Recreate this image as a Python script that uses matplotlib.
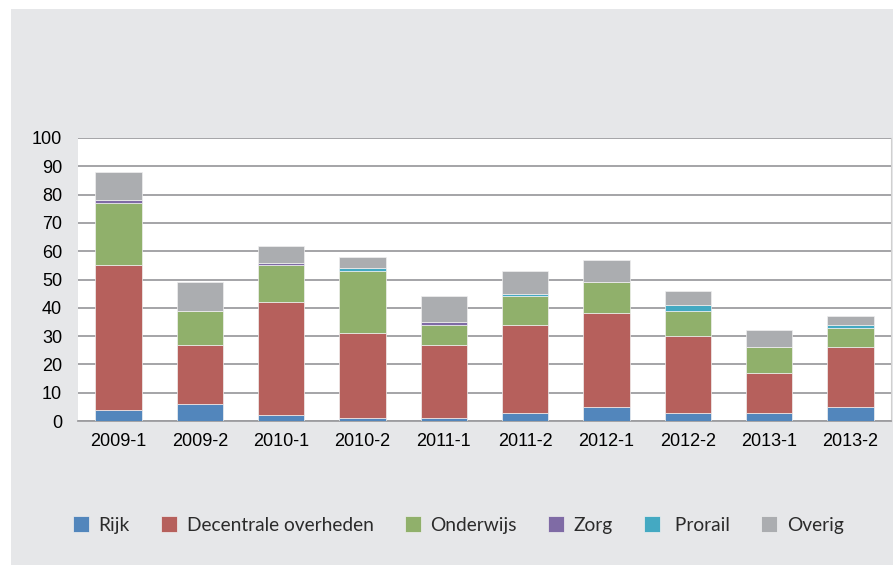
import numpy as np
import matplotlib.pyplot as plt
from matplotlib.patches import Rectangle

# Data
periods = ['2009-1', '2009-2', '2010-1', '2010-2', '2011-1',
           '2011-2', '2012-1', '2012-2', '2013-1', '2013-2']
rijk = [4, 6, 2, 1, 1, 3, 5, 3, 3, 5]
decentraal = [51, 21, 40, 30, 26, 31, 33, 27, 14, 21]
onderwijs = [22, 12, 13, 22, 7, 10, 11, 9, 9, 7]
zorg = [1, 0, 1, 0, 1, 0, 0, 0, 0, 0]
prorail = [0, 0, 0, 1, 0, 1, 0, 2, 0, 1]
overig = [10, 10, 6, 4, 9, 8, 8, 5, 6, 3]

series = [
    ('Rijk', rijk, '#5286bc'),
    ('Decentrale overheden', decentraal, '#b6605c'),
    ('Onderwijs', onderwijs, '#90b06b'),
    ('Zorg', zorg, '#7f6ba5'),
    (' Prorail', prorail, '#44a9c2'),
    ('Overig', overig, '#abadb0'),
]

fig = plt.figure(figsize=(8.93, 5.65), dpi=100)
fig.patch.set_facecolor('white')
# grey panel behind the chart
fig.patches.append(Rectangle((11 / 893, 0), 1 - 11 / 893, 556 / 565,
                             transform=fig.transFigure, facecolor='#e6e7e9',
                             edgecolor='none', zorder=-10))

ax = fig.add_axes([78 / 893, 144 / 565, 813 / 893, 283 / 565])
ax.set_facecolor('white')

x = np.arange(len(periods))
bottom = np.zeros(len(periods))
for name, vals, col in series:
    vals = np.array(vals, dtype=float)
    ax.bar(x, vals, 0.57, bottom=bottom, color=col, label=name,
           edgecolor='#f0f0f0', linewidth=0.5, zorder=3)
    bottom += vals

ax.set_xlim(-0.5, len(periods) - 0.5)
ax.set_ylim(0, 100)
ax.set_yticks(range(0, 101, 10))
ax.set_xticks(x)
ax.set_xticklabels(periods)
ax.yaxis.grid(True, color='#9d9da0', linewidth=1.3, zorder=0)
ax.set_axisbelow(True)
for s in ['left', 'top']:
    ax.spines[s].set_visible(False)
ax.spines['right'].set_color('#d0d0d0')
ax.spines['bottom'].set_color('#9d9da0')
ax.spines['bottom'].set_linewidth(1.3)
ax.tick_params(axis='both', length=0, labelsize=13, colors='black',
               labelfontfamily='Liberation Sans')
ax.tick_params(axis='y', pad=11.5)
ax.tick_params(axis='x', pad=9)

fig.legend(loc='center', bbox_to_anchor=(0.513, 1 - 525 / 565), ncol=6,
           frameon=False, prop={'family': 'Lato', 'size': 13.8},
           labelcolor='#2b2b2b', handlelength=0.85, handleheight=0.85,
           handletextpad=0.5, columnspacing=1.62)

fig.savefig('out.png', dpi=100)
